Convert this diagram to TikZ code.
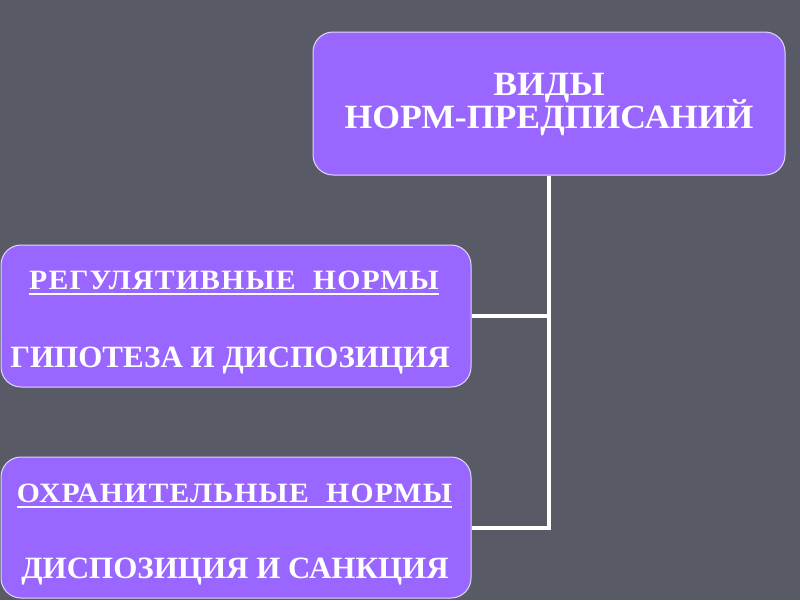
\documentclass[tikz,border=0pt]{standalone}
\usepackage{fontspec}
\setmainfont{Liberation Serif}
\newfontfamily\headfont{Liberation Serif}[FakeStretch=1.05]
\newfontfamily\spacedfont{Liberation Serif}[FakeStretch=1.06,LetterSpace=4.4]
\usetikzlibrary{calc}
\definecolor{bgcol}{RGB}{88,90,102}
\definecolor{boxcol}{RGB}{153,102,255}
\definecolor{edgecol}{RGB}{225,215,250}
\begin{document}
\begin{tikzpicture}[x=1pt,y=-1pt,
  box/.style={draw=edgecol, line width=1pt, fill=boxcol, rounded corners=20pt, inner sep=0pt},
  lbl/.style={text=white, font=\headfont\bfseries\fontsize{34}{36}\selectfont, inner sep=0pt, anchor=base},
  subhead/.style={text=white, font=\spacedfont\bfseries\fontsize{28}{30}\selectfont, inner sep=0pt, anchor=base},
  sub/.style={text=white, font=\bfseries\fontsize{31}{34}\selectfont, inner sep=0pt, anchor=base},
  conn/.style={draw=white, line width=4pt},
  uline/.style={draw=white, line width=2pt}]
\fill[bgcol] (0,0) rectangle (800,600);
\useasboundingbox (0,0) rectangle (800,600);
\node[box, minimum width=472pt, minimum height=143pt] (top) at (549,103.5) {};
\node[box, minimum width=470pt, minimum height=142pt] (b2) at (236,316) {};
\node[box, minimum width=470pt, minimum height=141pt] (b3) at (236,527.5) {};
\draw[conn] (top.south) -- (top.south |- b3.east) -- (b3.east);
\draw[conn] (b2.east) -- (top.south |- b2.east);
\node[lbl] (t1a) at (549,95) {ВИДЫ};
\node[lbl] (t1b) at (549,128) {НОРМ-ПРЕДПИСАНИЙ};
\node[subhead] (t2a) at (234,289) {РЕГУЛЯТИВНЫЕ\ \ НОРМЫ};
\node[sub] (t2b) at (230,367) {ГИПОТЕЗА И ДИСПОЗИЦИЯ};
\node[subhead] (t3a) at (234.5,502) {ОХРАНИТЕЛЬНЫЕ\ \ НОРМЫ};
\node[sub] (t3b) at (235,578) {ДИСПОЗИЦИЯ И САНКЦИЯ};
\draw[uline] ([yshift=-5pt]t2a.base west) -- ([yshift=-5pt]t2a.base east);
\draw[uline] ([yshift=-5pt]t3a.base west) -- ([yshift=-5pt]t3a.base east);
\end{tikzpicture}
\end{document}
